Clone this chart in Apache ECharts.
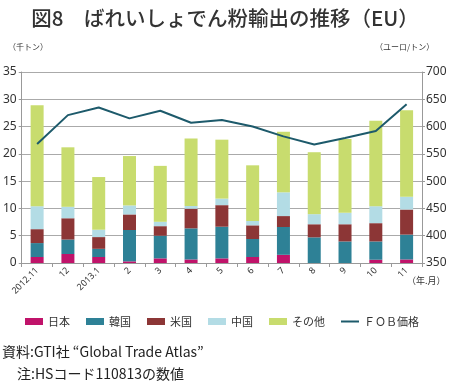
<!DOCTYPE html>
<html><head><meta charset="utf-8">
<script src="https://cdn.jsdelivr.net/npm/echarts@6/dist/echarts.min.js"></script>
<style>html,body{margin:0;padding:0;background:#fff}#c{width:450px;height:384px}</style>
</head><body><div id="c"></div>
<script>
const categories = ['2012.11','12','2013.1','2','3','4','5','6','7','8','9','10','11'];
const japan = [1.1,1.65,1.1,0.3,0.85,0.65,0.85,1.1,1.5,0,0,0.6,0.65];
const korea = [2.55,2.65,1.5,5.75,4.15,5.7,5.8,3.3,5.1,4.7,3.95,3.35,4.55];
const usa   = [2.55,3.9,2.15,2.85,1.75,3.6,3.95,2.5,2.0,2.4,3.15,3.35,4.6];
const china = [4.2,2.1,1.35,1.65,0.8,0.5,1.2,0.8,4.35,1.85,2.1,3.1,2.35];
const other = [18.5,10.9,9.65,9.05,10.25,12.35,10.8,10.2,11.1,11.35,13.5,15.65,15.85];
const fob   = [568,621,635,615,629,607,612,600,582,567,579,592,641];
const leftTicks = {min:0,max:35,interval:5};
const rightTicks = {min:350,max:700,interval:50};

const JP = '"Noto Sans CJK JP", "Noto Sans", sans-serif';
const chart = echarts.init(document.getElementById('c'));
const bar = (name, data, color) => ({
  name, type:'bar', stack:'t', data, barWidth:13,
  itemStyle:{color}, emphasis:{disabled:true}
});
chart.setOption({
  animation:false,
  title:{text:'図8　ばれいしょでん粉輸出の推移（EU）', left:'center', top:3,
    textStyle:{fontFamily:JP, fontSize:20.5, fontWeight:500, color:'#333'}},
  grid:{left:21, right:28, top:72, bottom:121, containLabel:false},
  legend:{left:20, top:311, itemWidth:18, itemHeight:7, itemGap:16,
    textStyle:{fontFamily:JP, fontSize:11, color:'#333'},
    data:[{name:'日本',icon:'rect'},{name:'韓国',icon:'rect'},{name:'米国',icon:'rect'},{name:'中国',icon:'rect'},{name:'その他',icon:'rect'},
          {name:'ＦＯＢ価格',icon:'path://M0,0 H18 V2 H0 Z', itemStyle:{color:'#1d5a6b'}}]},
  xAxis:{type:'category', data:categories, boundaryGap:true,
    axisLine:{lineStyle:{color:'#999'}},
    axisTick:{show:true, length:4, lineStyle:{color:'#999'}},
    axisLabel:{rotate:45, fontSize:9, color:'#333', fontFamily:'"Noto Sans", sans-serif', margin:6, interval:0}},
  yAxis:[
    {type:'value', min:leftTicks.min, max:leftTicks.max, interval:leftTicks.interval,
     axisLine:{show:true, lineStyle:{color:'#999'}},
     axisTick:{show:true, length:3, lineStyle:{color:'#999'}},
     splitLine:{lineStyle:{color:'#aaa'}},
     axisLabel:{fontSize:12, color:'#333', fontFamily:'"Noto Sans", sans-serif', margin:5}},
    {type:'value', min:rightTicks.min, max:rightTicks.max, interval:rightTicks.interval, position:'right',
     axisLine:{show:true, lineStyle:{color:'#999'}},
     axisTick:{show:true, length:3, lineStyle:{color:'#999'}},
     splitLine:{show:false},
     axisLabel:{fontSize:12, color:'#333', fontFamily:'"Noto Sans", sans-serif', margin:4}}
  ],
  series:[
    bar('日本', japan, '#c0136a'),
    bar('韓国', korea, '#2e8196'),
    bar('米国', usa, '#8c3636'),
    bar('中国', china, '#b3dce5'),
    bar('その他', other, '#c8dc6e'),
    {name:'ＦＯＢ価格', type:'line', yAxisIndex:1, data:fob, symbol:'none',
     lineStyle:{color:'#1d5a6b', width:2}, itemStyle:{color:'#1d5a6b'}, emphasis:{disabled:true}}
  ],
  graphic:[
    {type:'text', left:8, top:43, style:{text:'（千トン）', font:'8px '+JP, fill:'#333'}},
    {type:'text', left:375, top:43, style:{text:'（ユーロ/トン）', font:'8px '+JP, fill:'#333'}},
    {type:'text', left:407, top:276, style:{text:'（年.月）', font:'9px '+JP, fill:'#333'}},
    {type:'text', left:2, top:345, style:{text:'資料:GTI社 “Global Trade Atlas”', font:'14px '+JP, fill:'#222'}},
    {type:'text', left:17, top:367, style:{text:'注:HSコード110813の数値', font:'14px '+JP, fill:'#222'}}
  ]
});
</script></body></html>
